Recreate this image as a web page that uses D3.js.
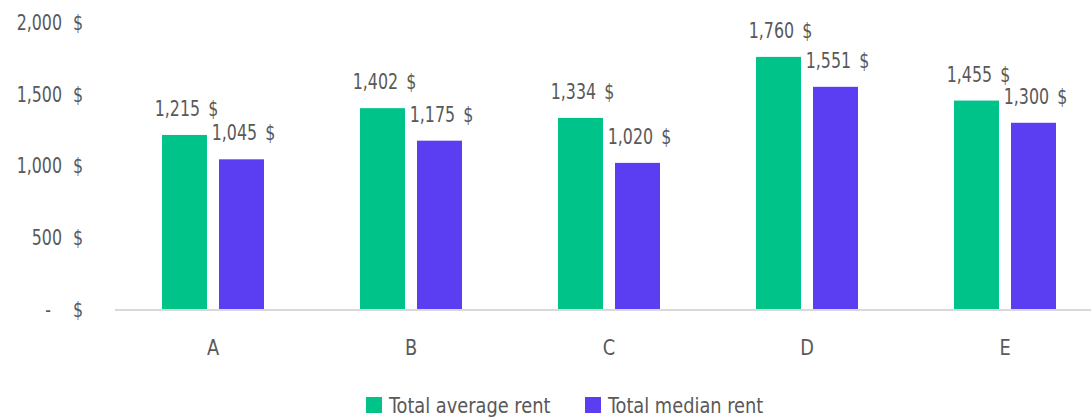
<!DOCTYPE html>
<html><head><meta charset="utf-8">
<script src="https://cdn.jsdelivr.net/npm/d3@7"></script>
<style>
body{margin:0;background:#fff;}
svg text{font-family:"DejaVu Sans Condensed","Liberation Sans Narrow","Roboto",sans-serif;fill:#595959;font-size:22px;}
</style></head><body>
<svg id="c" width="1091" height="418"></svg>
<script>
const categories = ["A","B","C","D","E"];
const seriesNames = ["Total average rent","Total median rent"];
const averageRent = [1215,1402,1334,1760,1455];
const medianRent = [1045,1175,1020,1551,1300];
const yTicks = [0,500,1000,1500,2000];
const colors = ["#00C389","#5C3EF2"];

const svg = d3.select("#c");
const x = d3.scaleBand().domain(categories).range([114,1104]);
const y = d3.scaleLinear().domain([0,2000]).range([309,22.5]);
const barW = 45, gap = 12;
const fmt = d3.format(",");
const NUM = 0.8, TXT = 0.9;

function txt(g, tx, ty, s, anchor, sx, dy){
  return g.append("text")
    .attr("transform",`translate(${tx},${ty}) scale(${sx},1)`)
    .attr("text-anchor",anchor).attr("dy",dy||0).text(s);
}

// baseline
svg.append("line").attr("x1",115).attr("x2",1091).attr("y1",y(0)+1).attr("y2",y(0)+1)
  .attr("stroke","#d9d9d9").attr("stroke-width",2);

// y tick labels
const yl = svg.append("g");
yTicks.forEach(t=>{
  txt(yl, 83, y(t), "$", "end", NUM, "0.35em");
  txt(yl, t===0?51:62, y(t), t===0?"-":fmt(t), "end", NUM, "0.35em");
});

const series = [averageRent, medianRent];
series.forEach((vals,si)=>{
  const off = si===0 ? -(barW+gap/2) : gap/2;
  svg.append("g").selectAll("rect").data(categories).join("rect")
    .attr("x",d=>x(d)+x.bandwidth()/2+off)
    .attr("width",barW)
    .attr("y",(d,i)=>y(vals[i]))
    .attr("height",(d,i)=>y(0)-y(vals[i]))
    .attr("fill",colors[si]);
  const lg = svg.append("g");
  categories.forEach((d,i)=>{
    txt(lg, x(d)+x.bandwidth()/2+off+barW/2+2, y(vals[i])-19, fmt(vals[i])+"\u00a0\u2009$", "middle", NUM);
  });
});

// x labels
const xl = svg.append("g");
categories.forEach(d=>{
  txt(xl, x(d)+x.bandwidth()/2, 355, d, "middle", TXT);
});

// legend
const legX = [366,585];
seriesNames.forEach((n,i)=>{
  svg.append("rect").attr("x",legX[i]).attr("y",397).attr("width",16).attr("height",16).attr("fill",colors[i]);
  txt(svg, legX[i]+23, 413, n, "start", TXT);
});
</script></body></html>
